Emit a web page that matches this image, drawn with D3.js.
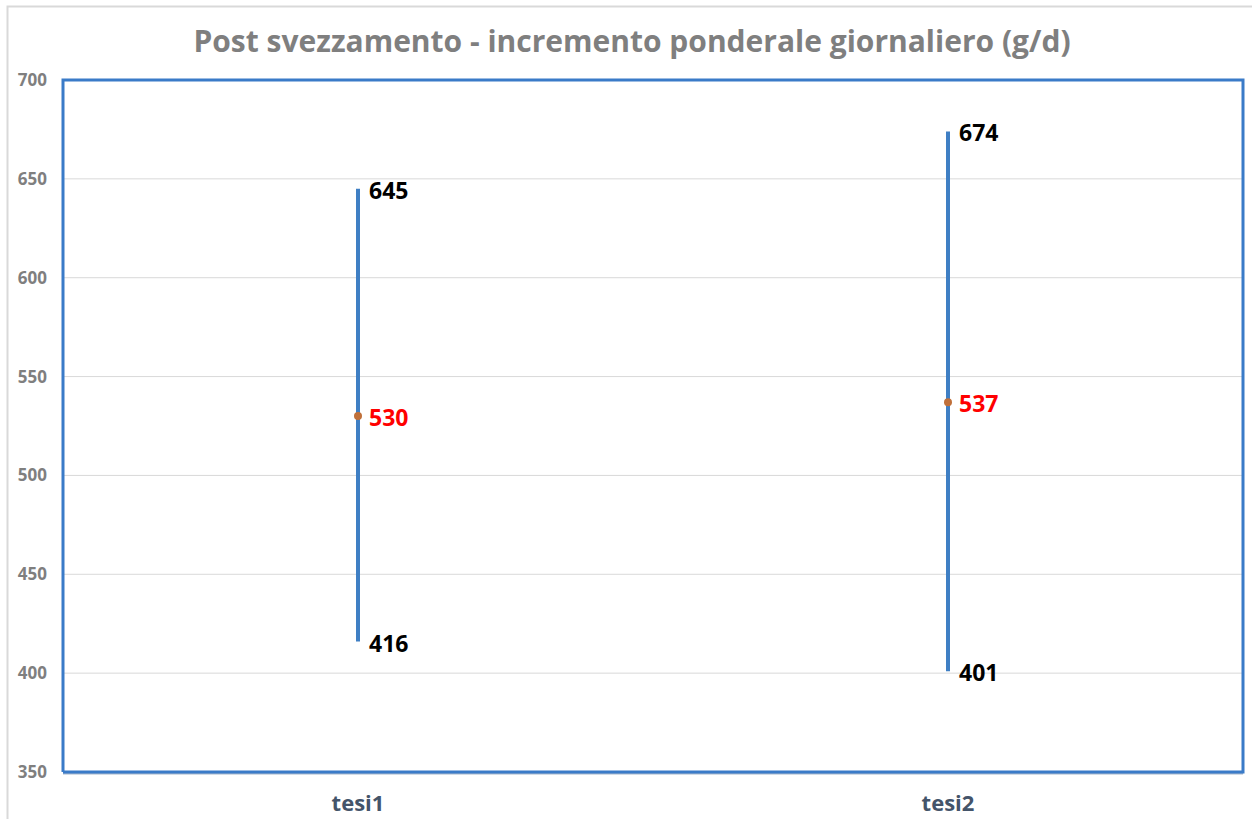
<!DOCTYPE html>
<head>
  <meta charset="utf-8">
  <style>
    body { margin: 0; background: #fff; }
    svg { font-family: "Open Sans", sans-serif; }
  </style>
  <script src="https://cdn.jsdelivr.net/npm/d3@7"></script>
</head>
<body>
  <script>
    const categories = ['tesi1', 'tesi2'];
    const lows = [416, 401];
    const highs = [645, 674];
    const means = [530, 537];
    const yTicks = [350, 400, 450, 500, 550, 600, 650, 700];

    const w = 1252, h = 819;
    const margin = {top: 80, right: 9, bottom: 47, left: 63};

    const svg = d3.select('body').append('svg')
      .attr('width', w)
      .attr('height', h);

    // outer chart border
    svg.append('path')
      .attr('d', `M7.5,${h} V6.5 H${w}`)
      .attr('fill', 'none')
      .attr('stroke', '#d9d9d9')
      .attr('stroke-width', 2);

    const x = d3.scaleBand()
      .domain(categories)
      .range([margin.left, w - margin.right]);

    const y = d3.scaleLinear()
      .domain([350, 700])
      .range([h - margin.bottom, margin.top]);

    // gridlines
    svg.append('g')
      .selectAll('line')
      .data(yTicks.slice(1, -1))
      .enter()
      .append('line')
      .attr('x1', margin.left)
      .attr('x2', w - margin.right)
      .attr('y1', d => y(d))
      .attr('y2', d => y(d))
      .attr('stroke', '#d9d9d9')
      .attr('stroke-width', 1);

    // y axis labels
    const yAxis = d3.axisLeft(y).tickValues(yTicks).tickSize(0).tickPadding(16);
    svg.append('g')
      .attr('transform', `translate(${margin.left},0)`)
      .call(yAxis)
      .call(g => g.select('.domain').remove())
      .selectAll('text')
      .attr('font-family', '"Open Sans", sans-serif')
      .attr('font-size', '17px')
      .attr('font-weight', 'bold')
      .attr('fill', '#7f7f7f');

    // x axis labels
    const xAxis = d3.axisBottom(x).tickSize(0).tickPadding(23);
    svg.append('g')
      .attr('transform', `translate(0,${h - margin.bottom})`)
      .call(xAxis)
      .call(g => g.select('.domain').remove())
      .selectAll('text')
      .attr('font-family', '"Open Sans", sans-serif')
      .attr('font-size', '22px')
      .attr('font-weight', 'bold')
      .attr('fill', '#44546a');

    // plot frame
    const pL = margin.left, pR = w - margin.right;
    const pT = margin.top, pB = h - margin.bottom;
    svg.append('line')
      .attr('x1', pL).attr('x2', pR)
      .attr('y1', pB + 1.5).attr('y2', pB + 1.5)
      .attr('stroke', '#a6b7cc').attr('stroke-width', 2);
    svg.append('path')
      .attr('d', `M${pL},${pB} V${pT} H${pR} V${pB} H${pL}`)
      .attr('fill', 'none')
      .attr('stroke', '#3a7bc8')
      .attr('stroke-width', 3);

    const cx = (d, i) => x(categories[i]) + x.bandwidth() / 2;

    // range lines
    svg.selectAll('.range')
      .data(categories)
      .enter()
      .append('line')
      .attr('class', 'range')
      .attr('x1', cx).attr('x2', cx)
      .attr('y1', (d, i) => y(lows[i]))
      .attr('y2', (d, i) => y(highs[i]))
      .attr('stroke', '#3f7fc4')
      .attr('stroke-width', 4);

    // mean dots
    svg.selectAll('.mean')
      .data(categories)
      .enter()
      .append('circle')
      .attr('class', 'mean')
      .attr('cx', cx)
      .attr('cy', (d, i) => y(means[i]))
      .attr('r', 4)
      .attr('fill', '#c0703a');

    const label = (vals, color, cls) => {
      svg.selectAll('.' + cls)
        .data(vals)
        .enter()
        .append('text')
        .attr('class', cls)
        .text(d => d)
        .attr('x', (d, i) => cx(d, i) + 11)
        .attr('y', d => y(d) + 2)
        .attr('dy', '0.35em')
        .attr('font-size', '23px')
        .attr('font-weight', 'bold')
        .attr('fill', color);
    };
    label(highs, '#000', 'hi');
    label(lows, '#000', 'lo');
    label(means, '#ff0000', 'mn');

    // title
    svg.append('text')
      .text('Post svezzamento - incremento ponderale giornaliero (g/d)')
      .attr('x', 632)
      .attr('y', 52)
      .attr('text-anchor', 'middle')
      .attr('font-size', '30px')
      .attr('font-weight', 'bold')
      .attr('fill', '#7f7f7f');
  </script>
</body>
